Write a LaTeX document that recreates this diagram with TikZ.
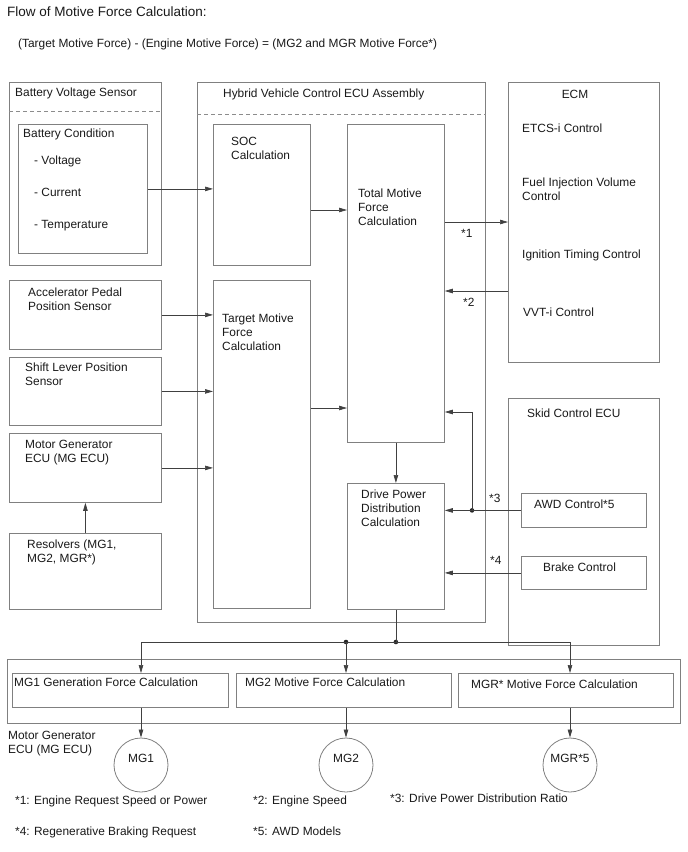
\documentclass[tikz,border=0pt]{standalone}
\usepackage{fontspec}
\setmainfont{Liberation Sans}
\usetikzlibrary{arrows.meta, positioning}

\begin{document}
\begin{tikzpicture}[x=1pt, y=-1pt,
            box/.style={draw=black!50, line width=0.8pt, rectangle, inner sep=0pt, anchor=north west},
            txt/.style={inner sep=0pt, anchor=north west, align=left, text=black!90, font=\fontsize{11.9}{14}\selectfont},
            sep/.style={draw=black!45, line width=0.8pt, dash pattern=on 4pt off 3pt},
            ln/.style={draw=black!75, line width=0.7pt},
            arr/.style={ln, -{Triangle[length=8pt, width=4.5pt]}},
            mot/.style={circle, draw=black!50, line width=0.8pt, minimum size=54pt, inner sep=0pt,
                        text height=8.5pt, text depth=14pt, text=black!90, font=\fontsize{11.9}{14}\selectfont},
            jdot/.style={circle, fill=black!85, inner sep=0pt, minimum size=4.6pt}]
            \useasboundingbox (0,0) rectangle (688,852);
            % heading
            \node[txt, font=\fontsize{13.5}{16}\selectfont] (title) at (7,7) {Flow of Motive Force Calculation:};
            \node[txt] (formula) at (18,38.7) {(Target Motive Force) - (Engine Motive Force) = (MG2 and MGR Motive Force*)};
            % left column
            \node[box, minimum width=152, minimum height=183] (bvs) at (9,82) {};
            \node[box, minimum width=129, minimum height=129] (bcond) at (18,124) {};
            \node[box, minimum width=152, minimum height=69] (accel) at (9,280) {};
            \node[box, minimum width=152, minimum height=68] (shift) at (9,357) {};
            \node[box, minimum width=152, minimum height=69] (mgecu) at (9,433) {};
            \node[box, minimum width=152, minimum height=76] (resolv) at (9,533) {};
            \draw[sep] (bvs.west |- 0,111) -- (bvs.east |- 0,111);
            \node[txt] (bvsT) at (15,87.7) {Battery Voltage Sensor};
            \node[txt] (bcondT) at (23,128.7) {Battery Condition};
            \node[txt] (voltT) at (34,155.7) {- Voltage};
            \node[txt] (currT) at (34,187.7) {- Current};
            \node[txt] (tempT) at (34,219.7) {- Temperature};
            \node[txt] (accelT) at (28,287.7) {Accelerator Pedal\\Position Sensor};
            \node[txt] (shiftT) at (25,362.7) {Shift Lever Position\\Sensor};
            \node[txt] (mgecuT) at (25,439.7) {Motor Generator\\ECU (MG ECU)};
            \node[txt] (resolvT) at (27,539.7) {Resolvers (MG1,\\MG2, MGR*)};
            % hybrid vehicle control ECU
            \node[box, minimum width=288, minimum height=540] (hv) at (197,82) {};
            \node[box, minimum width=97, minimum height=141] (soc) at (213,124) {};
            \node[box, minimum width=97, minimum height=318] (total) at (347,124) {};
            \node[box, minimum width=97, minimum height=328] (target) at (213,280) {};
            \node[box, minimum width=97, minimum height=126] (drive) at (347,483) {};
            \draw[sep] (hv.west |- 0,114) -- (hv.east |- 0,114);
            \node[txt] (hvT) at (223,88.7) {Hybrid Vehicle Control ECU Assembly};
            \node[txt] (socT) at (231,136.7) {SOC\\Calculation};
            \node[txt] (totalT) at (358,188.7) {Total Motive\\Force\\Calculation};
            \node[txt] (targetT) at (222,313.7) {Target Motive\\Force\\Calculation};
            \node[txt] (driveT) at (361,489.7) {Drive Power\\Distribution\\Calculation};
            % ECM and skid control ECU
            \node[box, minimum width=151, minimum height=280] (ecm) at (508,82) {};
            \node[box, minimum width=151, minimum height=247] (skid) at (508,398) {};
            \node[box, minimum width=125, minimum height=34] (awd) at (521,493) {};
            \node[box, minimum width=125, minimum height=33] (brake) at (521,556) {};
            \node[txt, anchor=north] (ecmT) at (575,89.7) {ECM};
            \node[txt] (etcsT) at (522,123.7) {ETCS-i Control};
            \node[txt] (fuelT) at (522,177.7) {Fuel Injection Volume\\Control};
            \node[txt] (ignT) at (522,249.7) {Ignition Timing Control};
            \node[txt] (vvtT) at (523,307.7) {VVT-i Control};
            \node[txt] (skidT) at (527,408.7) {Skid Control ECU};
            \node[txt] (awdT) at (534,499.7) {AWD Control*5};
            \node[txt] (brakeT) at (543,562.7) {Brake Control};
            % motor generator ECU
            \node[box, minimum width=673, minimum height=64] (mgout) at (7,659) {};
            \node[box, minimum width=216, minimum height=34] (mg1calc) at (12,673) {};
            \node[box, minimum width=215, minimum height=34] (mg2calc) at (236,673) {};
            \node[box, minimum width=215, minimum height=34] (mgrcalc) at (458,673) {};
            \node[txt] (mg1calcT) at (14,677.7) {MG1 Generation Force Calculation};
            \node[txt] (mg2calcT) at (245,677.7) {MG2 Motive Force Calculation};
            \node[txt] (mgrcalcT) at (471,679.7) {MGR* Motive Force Calculation};
            \node[txt] (mgoutT) at (8,730.7) {Motor Generator\\ECU (MG ECU)};
            \node[mot] (mg1) at (141,765) {MG1};
            \node[mot] (mg2) at (346,765) {MG2};
            \node[mot] (mgr) at (570,765) {MGR*5};
            % connectors
            \draw[arr] (bcond.east) -- (soc.west |- bcond.east);
            \draw[arr] (soc.east |- 0,210) -- (total.west |- 0,210);
            \draw[arr] (accel.east) -- (target.west |- accel.east);
            \draw[arr] (shift.east) -- (target.west |- shift.east);
            \draw[arr] (mgecu.east) -- (target.west |- mgecu.east);
            \draw[arr] (resolv.north) -- (mgecu.south);
            \draw[arr] (target.east |- 0,408) -- (total.west |- 0,408);
            \draw[arr] (total.east |- 0,222) -- (ecm.west |- 0,222);
            \draw[arr] (ecm.west |- 0,291) -- (total.east |- 0,291);
            \draw[arr] (total.south) -- (drive.north);
            \node[jdot] (j3) at (awd.west -| 472,0) {};
            \draw[arr] (awd.west) -- (drive.east |- awd.west);
            \draw[arr] (j3.center) |- (total.east |- 0,412);
            \draw[arr] (brake.west) -- (drive.east |- brake.west);
            \node[txt] (n1) at (461,228.7) {*1};
            \node[txt] (n2) at (463,297.7) {*2};
            \node[txt] (n3) at (489,493.7) {*3};
            \node[txt] (n4) at (490,555.7) {*4};
            \node[jdot] (jbus) at (drive.south |- 0,642) {};
            \node[jdot] (jmg2) at (mg2 |- jbus) {};
            \draw[ln] (drive.south) -- (jbus.center);
            \draw[ln] (mg1 |- jbus) -- (mgr |- jbus);
            \draw[arr] (mg1 |- jbus) -- (mg1 |- mg1calc.north);
            \draw[arr] (jmg2.center) -- (mg2 |- mg2calc.north);
            \draw[arr] (mgr |- jbus) -- (mgr |- mgrcalc.north);
            \draw[arr] (mg1 |- mg1calc.south) -- (mg1.north);
            \draw[arr] (mg2 |- mg2calc.south) -- (mg2.north);
            \draw[arr] (mgr |- mgrcalc.south) -- (mgr.north);
            % footnotes
            \node[txt] (fn1) at (15,795.7) {*1: Engine Request Speed or Power};
            \node[txt] (fn2) at (253,795.7) {*2: Engine Speed};
            \node[txt] (fn3) at (390,793.7) {*3: Drive Power Distribution Ratio};
            \node[txt] (fn4) at (15,826.7) {*4: Regenerative Braking Request};
            \node[txt] (fn5) at (253,826.7) {*5: AWD Models};
        \end{tikzpicture}
\end{document}
